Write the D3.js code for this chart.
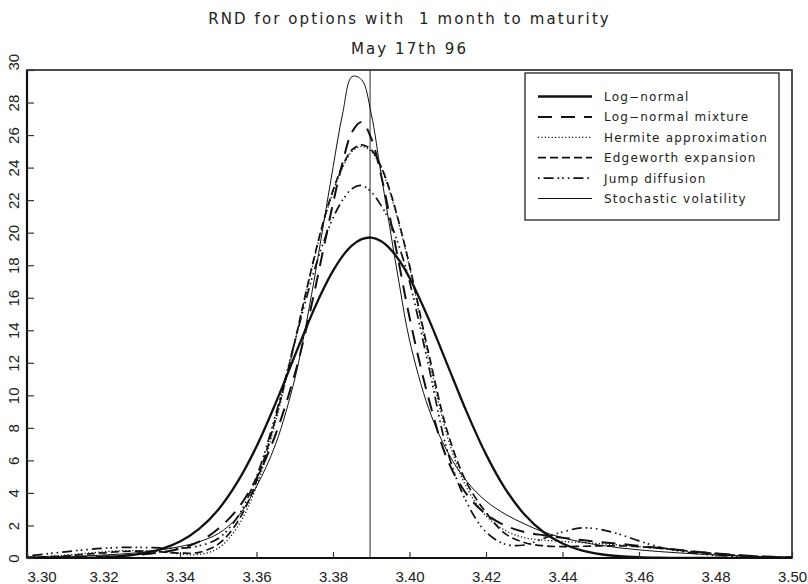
<!DOCTYPE html>
<html><head><meta charset="utf-8">
<script src="https://cdn.jsdelivr.net/npm/d3@7/dist/d3.min.js"></script>
<style>body{margin:0;background:#fff}svg{display:block}</style>
</head><body>
<script>
// ---------- data ----------
const titleLines = ["RND for options with  1 month to maturity", "May 17th 96"];
const xValues = [3.300,3.305,3.310,3.315,3.320,3.325,3.330,3.335,3.340,3.345,3.350,3.355,3.360,3.365,3.370,
  3.3725,3.375,3.3775,3.380,3.3825,3.385,3.3875,3.390,3.3925,3.395,3.3975,
  3.400,3.405,3.410,3.415,3.420,3.425,3.430,3.435,3.440,3.445,3.450,3.455,3.460,3.465,3.470,3.475,3.480,3.485,3.490,3.495,3.500];
const logNormal = [0.00,0.00,0.01,0.02,0.06,0.13,0.27,0.54,1.01,1.79,2.97,4.66,6.85,9.52,12.43,
  13.87,15.27,16.54,17.65,18.56,19.22,19.60,19.70,19.49,18.99,18.23,
  17.23,14.70,11.83,8.95,6.37,4.27,2.69,1.60,0.89,0.47,0.23,0.11,0.05,0.02,0.01,0.00,0.00,0.00,0.00,0.00,0.00];
const logNormalMixture = [0.01,0.02,0.04,0.06,0.09,0.14,0.22,0.35,0.58,1.00,1.80,3.00,4.90,7.60,11.30,
  13.60,16.20,19.00,21.80,24.30,26.20,26.80,25.80,23.60,20.80,17.80,
  14.80,9.80,6.00,3.90,2.70,2.00,1.60,1.40,1.25,1.10,0.98,0.87,0.75,0.63,0.50,0.38,0.28,0.19,0.12,0.07,0.04];
const hermite = [0.05,0.10,0.18,0.28,0.38,0.45,0.45,0.38,0.25,0.22,0.60,1.90,4.40,8.40,13.20,
  15.80,18.30,20.60,22.50,24.00,25.00,25.30,25.00,24.00,22.40,20.30,
  17.90,12.30,7.40,4.30,2.60,1.70,1.25,1.10,1.02,0.95,0.88,0.80,0.70,0.60,0.48,0.36,0.26,0.17,0.10,0.06,0.03];
const edgeworth = [0.03,0.07,0.13,0.22,0.32,0.40,0.42,0.38,0.30,0.35,0.85,2.20,4.70,8.60,13.30,
  15.90,18.40,20.70,22.60,24.10,25.10,25.40,25.10,24.10,22.50,20.40,
  18.00,12.60,7.70,4.60,2.80,1.50,0.95,0.75,0.70,0.72,0.75,0.75,0.70,0.60,0.50,0.38,0.27,0.18,0.11,0.06,0.03];
const jumpDiffusion = [0.12,0.25,0.38,0.50,0.60,0.65,0.65,0.62,0.60,0.75,1.20,2.50,5.00,8.80,13.30,
  15.50,17.60,19.40,20.90,22.00,22.70,22.90,22.50,21.70,20.60,19.00,
  17.00,11.80,6.50,3.40,1.60,0.85,0.80,1.20,1.60,1.85,1.75,1.45,1.05,0.70,0.45,0.28,0.17,0.10,0.06,0.03,0.02];
const stochasticVol = [0.04,0.06,0.09,0.13,0.18,0.25,0.35,0.50,0.70,1.00,1.50,2.50,4.40,7.00,11.00,
  13.80,17.00,20.50,24.00,27.30,29.60,29.40,27.30,23.70,20.10,16.60,
  13.40,9.20,6.50,4.70,3.50,2.70,2.10,1.60,1.25,0.98,0.78,0.62,0.50,0.40,0.32,0.25,0.19,0.14,0.10,0.07,0.05];
const seriesNames = ["Log\u2212normal","Log\u2212normal mixture","Hermite approximation","Edgeworth expansion","Jump diffusion","Stochastic volatility"];
const seriesValues = [logNormal, logNormalMixture, hermite, edgeworth, jumpDiffusion, stochasticVol];
const xTickValues = [3.30,3.32,3.34,3.36,3.38,3.40,3.42,3.44,3.46,3.48,3.50];
const yTickValues = [0,2,4,6,8,10,12,14,16,18,20,22,24,26,28,30];
const forwardPrice = 3.3897;

// ---------- styles ----------
const seriesStyles = [
  {w:2.3, dash:null},
  {w:2.0, dash:"14,9"},
  {w:1.3, dash:"1.2,2.2"},
  {w:1.7, dash:"8,4"},
  {w:1.7, dash:"1.6,4,10,4,1.6,3,1.6,4"},
  {w:1.0, dash:null}
];

const W = 808, H = 584;
const svg = d3.select("body").append("svg").attr("width", W).attr("height", H);
const x = d3.scaleLinear().domain([3.30, 3.50]).range([27, 792]);
const y = d3.scaleLinear().domain([0, 30]).range([558, 70]);

// title
svg.selectAll("text.title").data(titleLines).enter().append("text")
  .attr("class","title")
  .attr("x", (x.range()[0]+x.range()[1])/2)
  .attr("y", (d,i) => i === 0 ? 24 : 54)
  .attr("text-anchor","middle")
  .style("white-space","pre")
  .attr("font-family","DejaVu Sans, sans-serif")
  .attr("font-size", 15)
  .attr("letter-spacing", 2.1)
  .attr("fill","#222")
  .text(d => d);

// clip
svg.append("clipPath").attr("id","clip").append("rect")
  .attr("x", x.range()[0]).attr("y", y.range()[1])
  .attr("width", x.range()[1]-x.range()[0]).attr("height", y.range()[0]-y.range()[1]);

// forward price vertical line
svg.append("line")
  .attr("x1", x(forwardPrice)).attr("x2", x(forwardPrice))
  .attr("y1", y(0)).attr("y2", y(30))
  .attr("stroke","#7a7a7a").attr("stroke-width",1.6);

// curves
const line = d3.line().x(d => x(d[0])).y(d => y(Math.max(0, d[1]))).curve(d3.curveCatmullRom.alpha(0.5));
const g = svg.append("g").attr("clip-path","url(#clip)");
seriesValues.forEach((vals, i) => {
  const pts = xValues.map((xv, j) => [xv, vals[j]]);
  g.append("path").datum(pts)
    .attr("d", line)
    .attr("fill","none")
    .attr("stroke","#111")
    .attr("stroke-width", seriesStyles[i].w)
    .attr("stroke-dasharray", seriesStyles[i].dash)
    .attr("stroke-linejoin","round");
});

// frame
svg.append("rect")
  .attr("x", x.range()[0]).attr("y", y.range()[1])
  .attr("width", x.range()[1]-x.range()[0]).attr("height", y.range()[0]-y.range()[1])
  .attr("fill","none").attr("stroke","#222").attr("stroke-width",1.6);
svg.append("line").attr("x1",x.range()[0]).attr("x2",x.range()[0]).attr("y1",y.range()[0]).attr("y2",y.range()[1])
  .attr("stroke","#111").attr("stroke-width",2.2);
svg.append("line").attr("x1",x.range()[0]).attr("x2",x.range()[1]).attr("y1",y.range()[0]).attr("y2",y.range()[0])
  .attr("stroke","#111").attr("stroke-width",2.2);

// x axis
const xAxis = d3.axisBottom(x).tickValues(xTickValues).tickFormat(d3.format(".2f")).tickSizeInner(-6).tickSizeOuter(0).tickPadding(13);
const gx = svg.append("g").attr("transform", `translate(0,${y(0)})`).call(xAxis);
gx.select(".domain").remove();
gx.selectAll(".tick line").attr("stroke","#333").attr("stroke-width",1.2);
gx.selectAll(".tick text")
  .attr("font-family","Liberation Sans, Arial, sans-serif").attr("font-size",15).attr("fill","#222")
  .attr("dy","0.71em")
  .attr("text-anchor", d => d === xTickValues[0] ? "start" : "middle");

// y axis
const yAxis = d3.axisLeft(y).tickValues(yTickValues).tickFormat(d3.format("d")).tickSizeInner(-7).tickSizeOuter(0);
const gy = svg.append("g").attr("transform", `translate(${x(3.30)},0)`).call(yAxis);
gy.select(".domain").remove();
gy.selectAll(".tick line").attr("stroke","#333").attr("stroke-width",1.2);
gy.selectAll(".tick text").remove();
gy.selectAll(".tick").append("text")
  .attr("transform", "translate(-8,0) rotate(-90)")
  .attr("text-anchor", d => d === yTickValues[yTickValues.length-1] ? "start" : "middle")
  .attr("font-family","Liberation Sans, Arial, sans-serif").attr("font-size",15).attr("fill","#222")
  .attr("x",0).attr("y",0)
  .text(d => d);

// legend
const lg = svg.append("g");
lg.append("rect").attr("x",525).attr("y",73).attr("width",254).attr("height",147)
  .attr("fill","#fff").attr("stroke","#333").attr("stroke-width",1.4);
seriesNames.forEach((name, i) => {
  const ry = 96.5 + i*20.4;
  lg.append("line").attr("x1",538).attr("x2",592).attr("y1",ry).attr("y2",ry)
    .attr("stroke","#111").attr("stroke-width",seriesStyles[i].w)
    .attr("stroke-dasharray",seriesStyles[i].dash);
  lg.append("text").attr("x",604).attr("y",ry+4.5)
    .attr("font-family","DejaVu Sans, sans-serif").attr("font-size",12)
    .attr("letter-spacing",1.2).attr("fill","#222")
    .text(name);
});
</script>
</body></html>
